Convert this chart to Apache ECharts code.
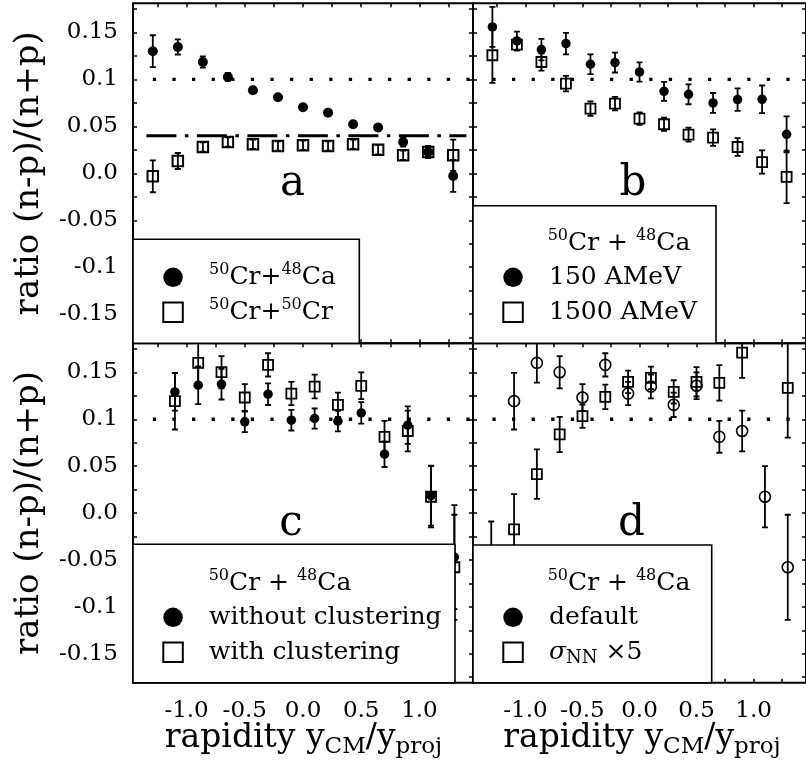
<!DOCTYPE html>
<html><head><meta charset="utf-8">
<script src="https://cdn.jsdelivr.net/npm/echarts@6/dist/echarts.min.js"></script>
<style>html,body{margin:0;padding:0;background:#fff}#c{width:806px;height:770px}</style>
</head><body><div id="c"></div>
<script>
// ---------------- data ----------------
const xTop = [-1.29,-1.075,-0.86,-0.645,-0.43,-0.215,0,0.215,0.43,0.645,0.86,1.075,1.29];
const xBottom = [-1.3,-1.1,-0.9,-0.7,-0.5,-0.3,-0.1,0.1,0.3,0.5,0.7,0.9,1.1,1.3];
const xTickValues = [-1.25,-1,-0.75,-0.5,-0.25,0,0.25,0.5,0.75,1,1.25];
const xLabelValues = [-1,-0.5,0,0.5,1];
const yTickValues = [-0.175,-0.15,-0.125,-0.1,-0.075,-0.05,-0.025,0,0.025,0.05,0.075,0.1,0.125,0.15,0.175];
const yLabelValues = [-0.15,-0.1,-0.05,0,0.05,0.1,0.15];

// panel a
const aCrCa    = [0.130,0.1345,0.1185,0.1026,0.0884,0.081,0.0703,0.0646,0.0522,0.0487,0.0334,0.0227,-0.0028];
const aCrCaErr = [0.017,0.008,0.006,0.0043,0.003,0.003,0.003,0.003,0.003,0.003,0.005,0.0064,0.017];
const aCrCr    = [-0.0032,0.0131,0.028,0.0334,0.031,0.029,0.0298,0.029,0.031,0.0252,0.0192,0.0227,0.0192];
const aCrCrErr = [0.017,0.0085,0.005,0.005,0.005,0.005,0.005,0.005,0.005,0.005,0.005,0.005,0.0167];
// panel b
const b150     = [0.1558,0.1409,0.1317,0.1381,0.1161,0.1179,0.1079,0.0873,0.0841,0.0749,0.0785,0.0788,0.0415];
const b150Err  = [0.0213,0.01,0.0115,0.0114,0.0106,0.0106,0.0103,0.0101,0.0106,0.0106,0.012,0.0147,0.0192];
const b1500    = [0.1257,0.137,0.1185,0.0955,0.0689,0.0742,0.0582,0.0522,0.0412,0.038,0.028,0.012,-0.0039];
const b1500Err = [0.0295,0.006,0.0092,0.0083,0.0076,0.0071,0.0067,0.0071,0.0075,0.0087,0.0094,0.0124,0.0279];
// panel c
const cWithout    = [null,0.1292,0.1363,0.1374,0.0973,0.1267,0.099,0.1008,0.098,0.1068,0.0628,0.0937,0.0185,-0.047];
const cWithoutErr = [null,0.02,0.0202,0.0163,0.011,0.0115,0.011,0.0107,0.011,0.0115,0.0137,0.02,0.032,0.0555];
const cWith       = [null,0.1193,0.1601,0.1502,0.1232,0.158,0.1274,0.1349,0.1154,0.1357,0.0813,0.0875,0.0174,-0.0578];
const cWithErr    = [null,0.0302,0.021,0.0172,0.0142,0.0124,0.0124,0.0126,0.013,0.0142,0.017,0.0218,0.0327,0.056];
// panel d
const dDefault    = [null,0.1193,0.1601,0.1502,0.1232,0.158,0.1274,0.1349,0.1154,0.1357,0.0813,0.0875,0.0174,-0.0578];
const dDefaultErr = [null,0.0302,0.021,0.0172,0.0142,0.0124,0.0124,0.0126,0.013,0.0142,0.017,0.0218,0.0327,0.056];
const dSigma      = [-0.055,-0.0174,0.0415,0.0838,0.1033,0.1239,0.1399,0.1441,0.1292,0.1399,0.1388,0.1711,null,0.1335];
const dSigmaErr   = [0.046,0.0376,0.0264,0.0188,0.0124,0.013,0.012,0.012,0.0124,0.0156,0.019,0.027,null,0.053];
// reference lines
const refDotted = 0.1;
const refDottedX = [-1.29, 1.46];
const refDashDot = 0.04;
const refDashDotX = [-1.345, 1.403];

// ---------------- chart ----------------
const FONT = 'DejaVu Serif';
const chart = echarts.init(document.getElementById('c'), null, {renderer:'canvas'});

const grids = [
  {left:133, top:3.3, width:340, height:340},
  {left:473, top:3.3, width:340, height:340},
  {left:133, top:343.3, width:340, height:339.5},
  {left:473, top:343.3, width:340, height:339.5}
];
const xAxes = [], yAxes = [];
const tickStyle = {color:'#000', width:1.5};
grids.forEach((g, gi) => {
  const showX = gi >= 2, showY = gi % 2 === 0;
  ['bottom','top'].forEach(pos => xAxes.push({
    gridIndex: gi, type:'value', min:-1.46, max:1.46, position: pos,
    axisLine:{show:false, onZero:false}, splitLine:{show:false},
    axisTick:{show:true, inside:true, length:4, customValues:xTickValues, lineStyle:tickStyle},
    axisLabel:{show: showX && pos==='bottom', customValues:xLabelValues, margin:17,
      formatter: v => v.toFixed(1), fontFamily:FONT, fontSize:23, color:'#000'}
  }));
  ['left','right'].forEach(pos => yAxes.push({
    gridIndex: gi, type:'value', min:-0.181, max:0.181, position: pos,
    axisLine:{show:false, onZero:false}, splitLine:{show:false},
    axisTick:{show:true, inside:true, length:4, customValues:yTickValues, lineStyle:tickStyle},
    axisLabel:{show: showY && pos==='left', customValues:yLabelValues, margin:15,
      formatter: v => { const r = Math.round(v*100)/100; return r === 0 ? '0.0' : String(r); },
      fontFamily:FONT, fontSize:23, color:'#000'}
  }));
});

function errSeries(gi, xs, vals, errs) {
  const data = [];
  xs.forEach((x, i) => { if (vals[i] != null) data.push([x, vals[i]-errs[i], vals[i]+errs[i]]); });
  return {
    type:'custom', xAxisIndex:2*gi, yAxisIndex:2*gi, clip:true, silent:true, z:2,
    data, encode:{x:0, y:[1,2]},
    renderItem: (params, api) => {
      const x = api.value(0), lo = api.value(1), hi = api.value(2);
      const p1 = api.coord([x, lo]), p2 = api.coord([x, hi]);
      const w = 3, st = {stroke:'#000', lineWidth:1.8};
      return {type:'group', children:[
        {type:'line', shape:{x1:p1[0], y1:p1[1], x2:p2[0], y2:p2[1]}, style:st},
        {type:'line', shape:{x1:p1[0]-w, y1:p1[1], x2:p1[0]+w, y2:p1[1]}, style:st},
        {type:'line', shape:{x1:p2[0]-w, y1:p2[1], x2:p2[0]+w, y2:p2[1]}, style:st}
      ]};
    }
  };
}
function scatter(gi, name, xs, vals, symbol, size, filled, bw) {
  const data = [];
  xs.forEach((x, i) => { if (vals[i] != null) data.push([x, vals[i]]); });
  return {
    type:'scatter', name, xAxisIndex:2*gi, yAxisIndex:2*gi, data, symbol, symbolSize:size,
    clip:true, silent:true, z:2,
    itemStyle: filled ? {color:'#000', borderWidth:0, opacity:1}
                      : {color:'rgba(0,0,0,0)', borderColor:'#000', borderWidth:bw, opacity:1}
  };
}
function refLine(gi, xr, y, type, width) {
  return {type:'line', xAxisIndex:2*gi, yAxisIndex:2*gi, silent:true, z:2, showSymbol:false, symbol:'none',
    data:[[xr[0], y],[xr[1], y]],
    lineStyle:{color:'#000', width, type, cap:'butt'}};
}

const dotted = [3.3, 16.3];
const dashdot = [30, 8.5, 3.5, 8.5];
const series = [
  refLine(0, refDottedX, refDotted, dotted, 3.3),
  refLine(0, refDashDotX, refDashDot, dashdot, 3),
  refLine(1, refDottedX, refDotted, dotted, 3.3),
  refLine(2, refDottedX, refDotted, dotted, 3.3),
  refLine(3, refDottedX, refDotted, dotted, 3.3),
  errSeries(0, xTop, aCrCa, aCrCaErr),
  errSeries(0, xTop, aCrCr, aCrCrErr),
  scatter(0, '50Cr+48Ca', xTop, aCrCa, 'circle', 10, true),
  scatter(0, '50Cr+50Cr', xTop, aCrCr, 'rect', 10.5, false, 2),
  errSeries(1, xTop, b150, b150Err),
  errSeries(1, xTop, b1500, b1500Err),
  scatter(1, '150 AMeV', xTop, b150, 'circle', 9.5, true),
  scatter(1, '1500 AMeV', xTop, b1500, 'rect', 10, false, 1.8),
  errSeries(2, xBottom, cWithout, cWithoutErr),
  errSeries(2, xBottom, cWith, cWithErr),
  scatter(2, 'without clustering', xBottom, cWithout, 'circle', 9.5, true),
  scatter(2, 'with clustering', xBottom, cWith, 'rect', 10, false, 1.8),
  errSeries(3, xBottom, dDefault, dDefaultErr),
  errSeries(3, xBottom, dSigma, dSigmaErr),
  scatter(3, 'default', xBottom, dDefault, 'circle', 11, false, 1.6),
  scatter(3, 'σNN ×5', xBottom, dSigma, 'rect', 10, false, 1.8)
];

const legendLabels = {
  '50Cr+48Ca': '{sup|50}Cr+{sup|48}Ca',
  '50Cr+50Cr': '{sup|50}Cr+{sup|50}Cr',
  'σNN ×5': '{it|σ}{sub|NN} ×5'
};
const richStyles = {
  sup:{fontFamily:FONT, fontSize:16, lineHeight:6, verticalAlign:'top', color:'#000'},
  sub:{fontFamily:FONT, fontSize:18, lineHeight:18, verticalAlign:'bottom', color:'#000'},
  it:{fontFamily:FONT, fontStyle:'italic', fontSize:25, lineHeight:30, color:'#000'}
};
const filledIcon = {icon:'circle', itemStyle:{color:'#000', borderWidth:0}};
const openIcon = {icon:'path://M0,0H20V20H0Z', itemStyle:{color:'#fff', borderColor:'#000', borderWidth:2}};
function legend(left, top, n1, n2) {
  return {
    orient:'vertical', left, top, padding:0, itemWidth:20, itemHeight:19.5, itemGap:5,
    selectedMode:false, z:4, symbolKeepAspect:true,
    data:[Object.assign({name:n1}, filledIcon), Object.assign({name:n2}, openIcon)],
    formatter: nm => legendLabels[nm] || nm,
    textStyle:{fontFamily:FONT, fontSize:25, lineHeight:30, color:'#000', padding:[0,0,0,21], rich:richStyles}
  };
}
const legends = [
  legend(162.3, 262.3, '50Cr+48Ca', '50Cr+50Cr'),
  legend(502.3, 262.3, '150 AMeV', '1500 AMeV'),
  legend(162.3, 602.3, 'without clustering', 'with clustering'),
  legend(502.3, 602.3, 'default', 'σNN ×5')
];

function box(x, y, w, h) {
  return {type:'rect', z:3, shape:{x, y, width:w, height:h}, style:{fill:'#fff', stroke:'#000', lineWidth:1.6}};
}
function txt(x, y, text, size, extra) {
  return Object.assign({type:'text', z:5, x, y, style:Object.assign({text, x:0, y:0, fontFamily:FONT, fontSize:size,
    fill:'#000', align:'center', verticalAlign:'middle'}, extra || {})});
}
const supRich = {sup:{fontFamily:FONT, fontSize:16, lineHeight:6, verticalAlign:'top', fill:'#000'}};
const xTitleRich = {
  m:{fontFamily:FONT, fontSize:33, lineHeight:40, fill:'#000'},
  s:{fontFamily:FONT, fontSize:23, lineHeight:19, verticalAlign:'bottom', fill:'#000'}
};
const graphics = [
  box(133, 239.3, 226.3, 104),
  box(473, 205.7, 243, 137.6),
  box(133, 544.3, 322, 138.5),
  box(473, 545, 238.7, 137.8),
  txt(619, 243, '{sup|50}Cr + {sup|48}Ca', 25, {lineHeight:30, rich:supRich}),
  txt(280, 583, '{sup|50}Cr + {sup|48}Ca', 25, {lineHeight:30, rich:supRich}),
  txt(619, 583, '{sup|50}Cr + {sup|48}Ca', 25, {lineHeight:30, rich:supRich}),
  txt(292.5, 184, 'a', 42),
  txt(633, 184, 'b', 42),
  txt(291, 524, 'c', 42),
  txt(631.5, 524, 'd', 42),
  Object.assign(txt(29, 173.3, 'ratio (n-p)/(n+p)', 34), {rotation:Math.PI/2}),
  Object.assign(txt(29, 513, 'ratio (n-p)/(n+p)', 34), {rotation:Math.PI/2}),
  txt(303.5, 738.6, '{m|rapidity y}{s|CM}{m|/y}{s|proj}', 33, {lineHeight:40, rich:xTitleRich}),
  txt(642, 738.6, '{m|rapidity y}{s|CM}{m|/y}{s|proj}', 33, {lineHeight:40, rich:xTitleRich})
];

chart.setOption({
  animation:false,
  backgroundColor:'#fff',
  grid: grids.map(g => Object.assign({show:true, borderColor:'#000', borderWidth:2, backgroundColor:'rgba(0,0,0,0)', containLabel:false}, g)),
  xAxis: xAxes,
  yAxis: yAxes,
  legend: legends,
  series,
  graphic: graphics
});
</script></body></html>
